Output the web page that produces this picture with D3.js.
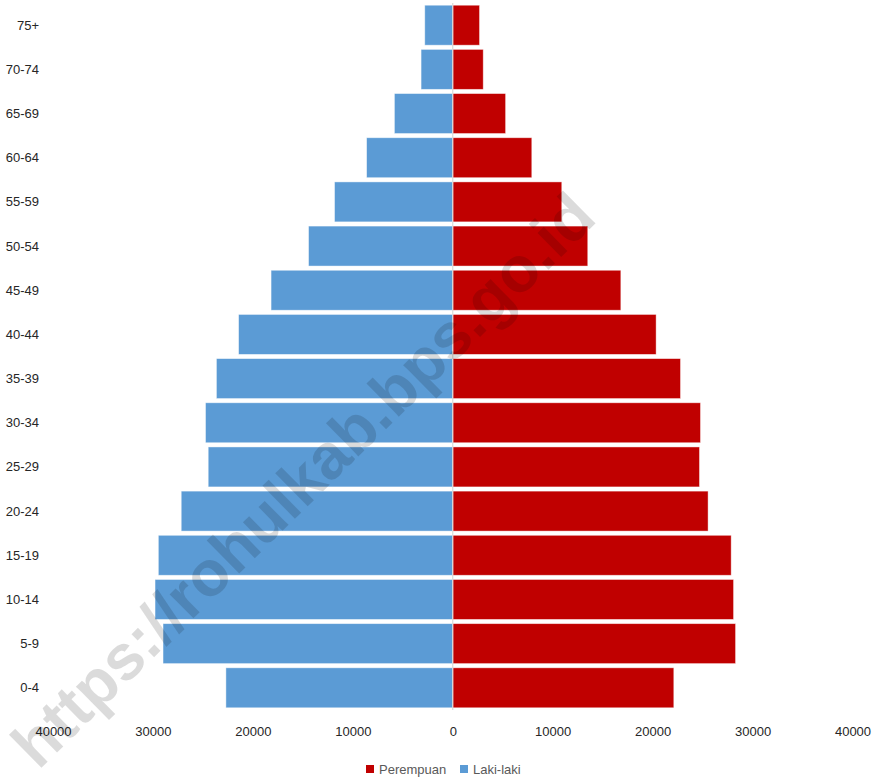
<!DOCTYPE html>
<html>
<head>
<meta charset="utf-8">
<script src="https://cdn.jsdelivr.net/npm/d3@7"></script>
<style>
  html, body { margin: 0; padding: 0; background: #fff; }
  svg { display: block; }
</style>
</head>
<body>
<svg id="chart" width="878" height="781"></svg>
<script>
const ageGroups = ["75+","70-74","65-69","60-64","55-59","50-54","45-49","40-44","35-39","30-34","25-29","20-24","15-19","10-14","5-9","0-4"];
const lakiLaki  = [2800,3170,5840,8620,11830,14430,18180,21430,23650,24740,24470,27170,29460,29790,28990,22700];
const perempuan = [2680,3050,5290,7910,10910,13510,16820,20350,22790,24790,24690,25550,27860,28100,28300,22120];
const tickValues = [-40000,-30000,-20000,-10000,0,10000,20000,30000,40000];
const seriesNames = ["Perempuan","Laki-laki"];
const seriesColors = ["#c00000","#5b9bd5"];

const svg = d3.select("#chart");
const font = "'Liberation Sans', Arial, sans-serif";

const x = d3.scaleLinear().domain([-40000, 40000]).range([53, 852.5]);
const y = d3.scaleBand().domain(ageGroups).range([3, 710]).paddingInner(0.095).paddingOuter(0.05);

// bars
const g = svg.append("g");
g.selectAll("rect.male").data(ageGroups).join("rect")
  .attr("class","male")
  .attr("x", (d,i) => x(-lakiLaki[i]))
  .attr("width", (d,i) => x(0) - x(-lakiLaki[i]))
  .attr("y", d => y(d))
  .attr("height", y.bandwidth())
  .attr("fill", seriesColors[1])
  .attr("stroke", "#ffffff").attr("stroke-opacity", 0.55).attr("stroke-width", 0.8);

g.selectAll("rect.female").data(ageGroups).join("rect")
  .attr("class","female")
  .attr("x", x(0))
  .attr("width", (d,i) => x(perempuan[i]) - x(0))
  .attr("y", d => y(d))
  .attr("height", y.bandwidth())
  .attr("fill", seriesColors[0])
  .attr("stroke", "#ffffff").attr("stroke-opacity", 0.55).attr("stroke-width", 0.8);

// center axis line
svg.append("line")
  .attr("x1", x(0)).attr("x2", x(0))
  .attr("y1", 3).attr("y2", 710)
  .attr("stroke", "#d9d9d9").attr("stroke-width", 1.2);

// y labels
svg.append("g").selectAll("text").data(ageGroups).join("text")
  .attr("x", 39)
  .attr("y", d => y(d) + y.bandwidth()/2)
  .attr("text-anchor", "end")
  .attr("dominant-baseline", "central")
  .attr("font-family", font).attr("font-size", 13)
  .attr("fill", "#262626")
  .text(d => d);

// x axis
const xAxis = d3.axisBottom(x).tickValues(tickValues).tickFormat(d => String(Math.abs(d))).tickSize(0).tickPadding(0);
const ax = svg.append("g").attr("transform", "translate(0,727)").call(xAxis);
ax.select(".domain").remove();
ax.selectAll("text").attr("font-family", font).attr("font-size", 13).attr("fill", "#262626").attr("dy", "0.71em");

// legend
const legend = svg.append("g");
const lx = [366, 460];
seriesNames.forEach((name, i) => {
  legend.append("rect").attr("x", lx[i]).attr("y", 765).attr("width", 8).attr("height", 8).attr("fill", seriesColors[i]);
  legend.append("text").attr("x", lx[i] + 13).attr("y", 769.5)
    .attr("dominant-baseline", "central")
    .attr("font-family", font).attr("font-size", 13).attr("fill", "#595959").text(name);
});

// watermark
svg.append("text")
  .attr("transform", "translate(303,480) rotate(-44.5)")
  .attr("text-anchor", "middle")
  .attr("dominant-baseline", "central")
  .attr("font-family", font).attr("font-weight", "bold").attr("font-size", 64)
  .attr("fill", "#000").attr("fill-opacity", 0.14)
  .text("https://rohulkab.bps.go.id");
</script>
</body>
</html>
